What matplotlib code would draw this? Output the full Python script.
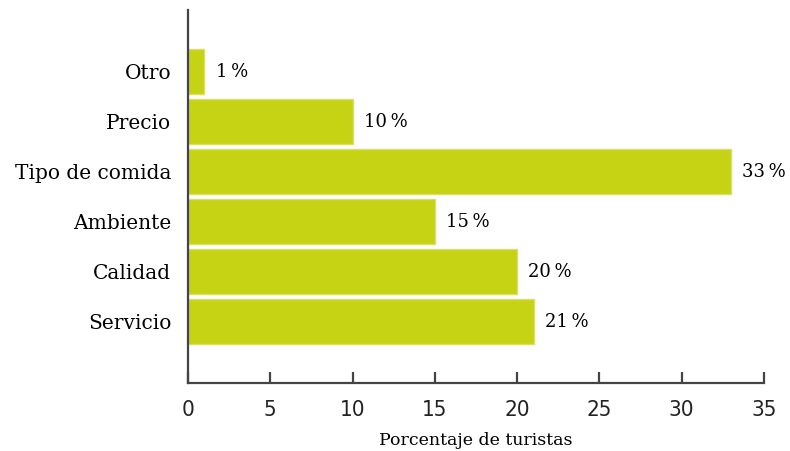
import matplotlib.pyplot as plt

# motivos de elección de restaurante
categorias = ['Servicio', 'Calidad', 'Ambiente', 'Tipo de comida', 'Precio', 'Otro']
porcentajes = [21, 20, 15, 33, 10, 1]
ticks_x = [0, 5, 10, 15, 20, 25, 30, 35]

fig = plt.figure(figsize=(7.9, 4.51), dpi=100)
ax = fig.add_axes([0.238, 0.151, 0.729, 0.827])

pos = list(range(len(categorias)))
ax.barh(pos, porcentajes, height=0.9, color='#c6d314', edgecolor='#d8e06a', linewidth=1)

for y, v in zip(pos, porcentajes):
    ax.annotate(f'{v}\u2009%', xy=(v, y), xytext=(8, 0), textcoords='offset points',
                va='center', ha='left', fontsize=13, family='DejaVu Serif')

ax.set_xlim(0, 35)
ax.set_ylim(-1.22, 6.24)
ax.set_yticks(pos)
ax.set_yticklabels(categorias, fontsize=14.5, family='DejaVu Serif')
ax.set_xticks(ticks_x)
ax.set_xticklabels([str(t) for t in ticks_x], fontsize=16,
                   family='DejaVu Sans', stretch='condensed', color='#222222')
ax.set_xlabel('Porcentaje de turistas', fontsize=12.5, family='DejaVu Serif', labelpad=9)

for s in ['top', 'right']:
    ax.spines[s].set_visible(False)
for s in ['left', 'bottom']:
    ax.spines[s].set_color('#444444')
    ax.spines[s].set_linewidth(1.6)

ax.tick_params(axis='x', direction='in', length=8, width=1.6, color='#444444', pad=12)
ax.tick_params(axis='y', length=0, pad=12)

fig.savefig('out.png', dpi=100)
